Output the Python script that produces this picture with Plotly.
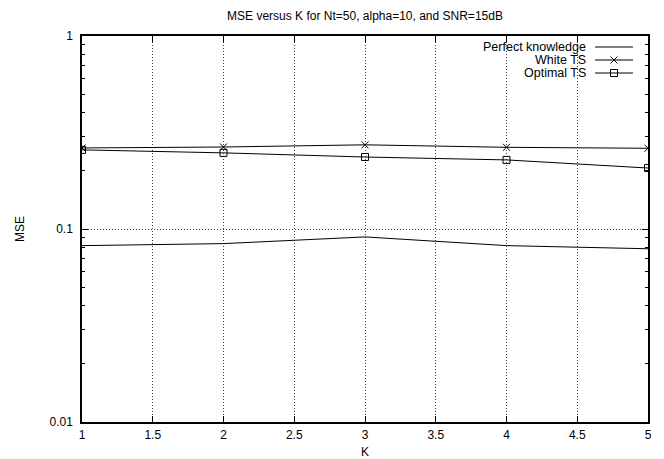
import plotly.graph_objects as go

K = [1, 2, 3, 4, 5]
perfect = [0.082, 0.084, 0.091, 0.082, 0.079]
white_ts = [0.263, 0.266, 0.273, 0.265, 0.262]
optimal_ts = [0.257, 0.248, 0.236, 0.228, 0.207]

x_ticks = [1, 1.5, 2, 2.5, 3, 3.5, 4, 4.5, 5]
x_ticklabels = ["1", "1.5", "2", "2.5", "3", "3.5", "4", "4.5", "5"]
y_ticks = [0.01, 0.1, 1]
y_ticklabels = ["0.01", "0.1", "1"]
y_minor = [0.02, 0.03, 0.04, 0.05, 0.06, 0.07, 0.08, 0.09,
           0.2, 0.3, 0.4, 0.5, 0.6, 0.7, 0.8, 0.9]

series_names = ["Perfect knowledge", "White TS", "Optimal TS"]
series_symbols = [None, "x-thin-open", "square-open"]
series_data = [perfect, white_ts, optimal_ts]

FONT = "Liberation Sans, Arial, Helvetica, sans-serif"

L, R, T, B = 82, 16, 36, 37
W, H = 664, 459
pw, ph = W - L - R, H - T - B

def px_x(p):
    return (p - L) / pw

def px_y(p):
    return (H - B - p) / ph

fig = go.Figure()
for name, sym, ys in zip(series_names, series_symbols, series_data):
    fig.add_trace(go.Scatter(
        x=K, y=ys, name=name,
        mode="lines" if sym is None else "lines+markers",
        line=dict(color="black", width=1),
        marker=dict(symbol=sym or "circle", size=7, color="black",
                    line=dict(color="black", width=1)),
        showlegend=False,
    ))

# custom gnuplot-style legend (text right, sample to the right)
leg_rows = [47, 60, 73]
for i, (name, sym) in enumerate(zip(series_names, series_symbols)):
    yy = px_y(leg_rows[i])
    fig.add_annotation(xref="paper", yref="paper", x=px_x(588), y=yy,
                       text=name, showarrow=False, xanchor="right",
                       yanchor="middle", font=dict(family=FONT, size=12.5, color="black"))
    fig.add_trace(go.Scatter(
        x=[px_x(595), px_x(633)], y=[yy, yy], xaxis="x2", yaxis="y2",
        mode="lines", line=dict(color="black", width=1),
        showlegend=False, hoverinfo="skip"))
    if sym:
        fig.add_trace(go.Scatter(
            x=[px_x(614)], y=[yy], xaxis="x2", yaxis="y2", mode="markers",
            marker=dict(symbol=sym, size=7, color="black",
                        line=dict(color="black", width=1)),
            showlegend=False, hoverinfo="skip"))

GRID = dict(showgrid=True, gridcolor="#444", griddash="1px,2px", gridwidth=1)

fig.update_layout(
    width=W, height=H,
    margin=dict(l=L, r=R, t=T, b=B, autoexpand=False),
    paper_bgcolor="white", plot_bgcolor="white",
    font=dict(family=FONT, size=12, color="black"),
    title=dict(text="MSE versus K for Nt=50, alpha=10, and SNR=15dB",
               x=0.5, xref="paper", y=1 - 16 / H, yref="container", yanchor="middle",
               font=dict(family=FONT, size=12, color="black")),
    xaxis=dict(
        range=[1, 5], tickvals=x_ticks, ticktext=x_ticklabels,
        showline=True, linecolor="black", linewidth=1.5, mirror="ticks",
        ticks="inside", ticklen=6, tickcolor="black",
        zeroline=False, automargin=False, ticklabelstandoff=1,
        title=dict(text="K", standoff=8, font=dict(family=FONT, size=12)),
        tickfont=dict(family=FONT, size=12),
        **GRID,
    ),
    yaxis=dict(
        type="log", range=[-2, 0], tickvals=y_ticks, ticktext=y_ticklabels,
        showline=True, linecolor="black", linewidth=1.5, mirror="ticks",
        ticks="inside", ticklen=6, tickcolor="black",
        zeroline=False, automargin=False, ticklabelstandoff=5,
        minor=dict(tickvals=y_minor, ticks="inside", ticklen=3,
                   tickcolor="black", showgrid=False),
        title=dict(text="MSE", standoff=22, font=dict(family=FONT, size=12)),
        tickfont=dict(family=FONT, size=12),
        **GRID,
    ),
    xaxis2=dict(overlaying="x", range=[0, 1], visible=False, fixedrange=True),
    yaxis2=dict(overlaying="y", range=[0, 1], visible=False, fixedrange=True),
)

fig.write_html("out.html", config={"displayModeBar": False},
               post_script="document.body.style.margin='0';document.body.style.overflow='hidden';")
